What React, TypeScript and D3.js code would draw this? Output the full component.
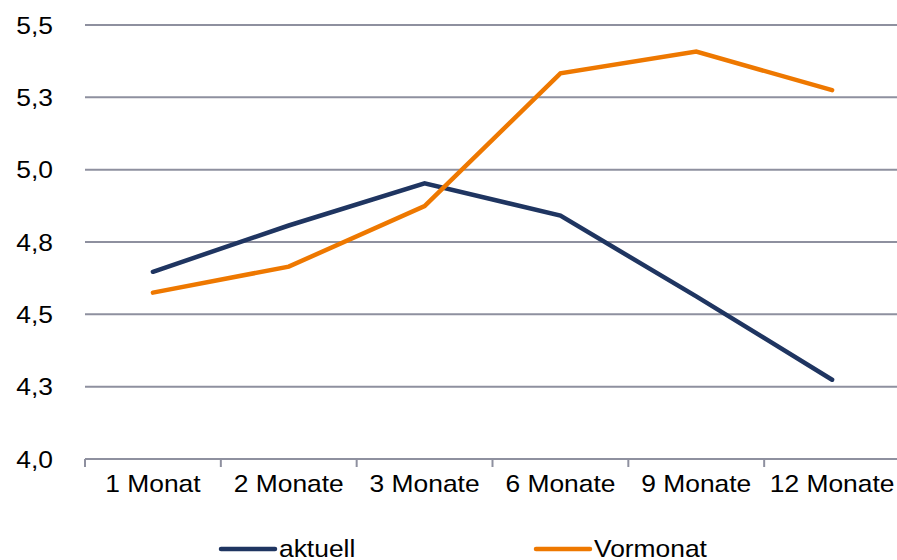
import React from "react";
import * as d3 from "d3";

const categories = ["1 Monat", "2 Monate", "3 Monate", "6 Monate", "9 Monate", "12 Monate"];
const aktuell = [4.647, 4.807, 4.953, 4.841, 4.562, 4.274];
const vormonat = [4.575, 4.665, 4.874, 5.333, 5.408, 5.275];
const yTicks = [4.0, 4.25, 4.5, 4.75, 5.0, 5.25, 5.5];
const yTickLabels = ["4,0", "4,3", "4,5", "4,8", "5,0", "5,3", "5,5"];
const seriesNames = ["aktuell", "Vormonat"];
const seriesColors = ["#1F3561", "#EE7800"];

const W = 897;
const H = 560;
const left = 85;
const right = 900;
const top = 25;
const bottom = 459;
const FONT = "'Liberation Sans', Arial, sans-serif";
const FS = 24;
const SX = 1.1;

export default function App() {
  const x = d3.scaleBand<string>().domain(categories).range([left, right]);
  const y = d3.scaleLinear().domain([4.0, 5.5]).range([bottom, top]);
  const line = d3
    .line<number>()
    .x((_, i) => (x(categories[i]) as number) + x.bandwidth() / 2)
    .y((d) => y(d));
  const series = [aktuell, vormonat];
  const tickXs = categories.map((c) => x(c) as number).concat([right]);
  const legendX = [221, 536];

  return (
    <svg
      width={W}
      height={H}
      style={{ position: "absolute", left: 0, top: 0, background: "#fff" }}
    >
      {yTicks.map((t, i) => (
        <g key={"y" + i}>
          <line
            x1={left}
            x2={W}
            y1={y(t)}
            y2={y(t)}
            stroke="#8E909F"
            strokeWidth={2}
          />
          <text
            transform={`translate(53,${y(t) + 8.5}) scale(${SX},1)`}
            textAnchor="end"
            fontFamily={FONT}
            fontSize={FS}
            fill="#000"
          >
            {yTickLabels[i]}
          </text>
        </g>
      ))}
      {tickXs.map((tx, i) => (
        <line
          key={"t" + i}
          x1={tx}
          x2={tx}
          y1={bottom}
          y2={bottom + 8}
          stroke="#8E909F"
          strokeWidth={2}
        />
      ))}
      {categories.map((c) => (
        <text
          key={c}
          transform={`translate(${(x(c) as number) + x.bandwidth() / 2},491.5) scale(${SX},1)`}
          textAnchor="middle"
          fontFamily={FONT}
          fontSize={FS}
          fill="#000"
        >
          {c}
        </text>
      ))}
      {series.map((s, i) => (
        <path
          key={"s" + i}
          d={line(s) as string}
          fill="none"
          stroke={seriesColors[i]}
          strokeWidth={4.5}
          strokeLinecap="round"
          strokeLinejoin="miter"
        />
      ))}
      {seriesNames.map((n, i) => (
        <g key={"l" + i}>
          <line
            x1={legendX[i]}
            x2={legendX[i] + 54}
            y1={549}
            y2={549}
            stroke={seriesColors[i]}
            strokeWidth={4.5}
            strokeLinecap="round"
          />
          <text
            transform={`translate(${legendX[i] + 58},557) scale(${SX},1)`}
            fontFamily={FONT}
            fontSize={FS}
            fill="#000"
          >
            {n}
          </text>
        </g>
      ))}
    </svg>
  );
}
